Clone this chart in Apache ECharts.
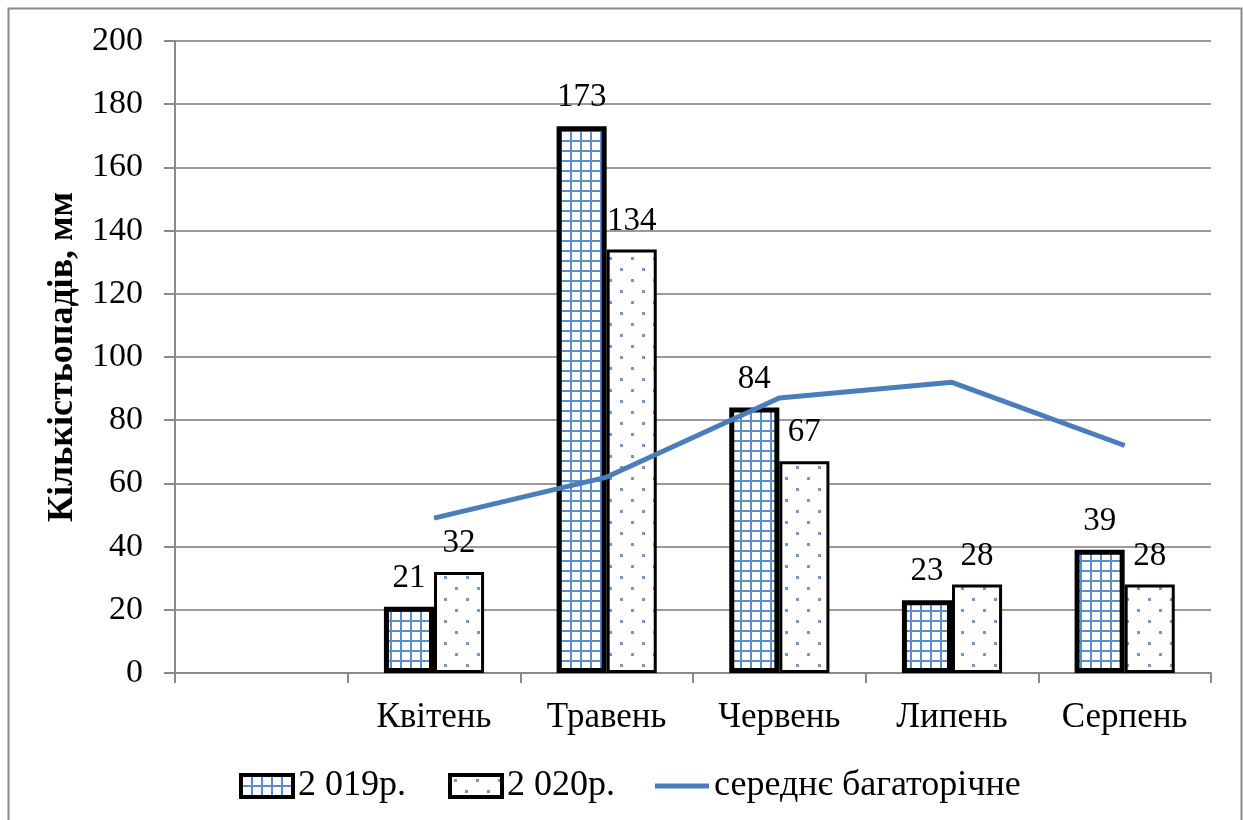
<!DOCTYPE html>
<html>
<head>
<meta charset="utf-8">
<script src="https://cdn.jsdelivr.net/npm/echarts@6/dist/echarts.min.js"></script>
<style>
  html, body { margin: 0; padding: 0; background: #fff; }
  #chart { width: 1243px; height: 820px; }
</style>
</head>
<body>
<div id="chart"></div>
<script>
// Monthly precipitation, mm
const months = ['', 'Квітень', 'Травень', 'Червень', 'Липень', 'Серпень'];
const rain2019 = [null, 21, 173, 84, 23, 39];
const rain2020 = [null, 32, 134, 67, 28, 28];
const longTermMean = [null, 49, 62, 87, 92, 72];
const yTicks = [0, 20, 40, 60, 80, 100, 120, 140, 160, 180, 200];
const seriesNames = ['2 019р.', '2 020р.', 'середнє багаторічне'];

const FONT = "'Liberation Serif', 'DejaVu Serif', serif";
const BLUE = '#4a7ebb';

// Fill textures: blue grid for 2019, sparse staggered dots for 2020
function gridTile() {
  const c = document.createElement('canvas');
  c.width = 10; c.height = 10;
  const g = c.getContext('2d');
  g.fillStyle = '#ffffff'; g.fillRect(0, 0, 10, 10);
  g.fillStyle = '#5d8ccc';
  g.fillRect(0, 0, 10, 2);
  g.fillRect(0, 0, 2, 10);
  return c;
}
function dotTile() {
  const c = document.createElement('canvas');
  c.width = 22; c.height = 22;
  const g = c.getContext('2d');
  g.fillStyle = '#ffffff'; g.fillRect(0, 0, 22, 22);
  g.fillStyle = '#6f98d2';
  g.fillRect(4, 4, 3, 3);
  g.fillRect(15, 15, 3, 3);
  return c;
}
const gridFill = { image: gridTile(), repeat: 'repeat' };
const dotFill = { image: dotTile(), repeat: 'repeat' };

const chart = echarts.init(document.getElementById('chart'), null, { renderer: 'canvas' });

const barLabel = {
  show: true,
  position: 'top',
  distance: 12,
  color: '#000',
  fontFamily: FONT,
  fontSize: 33
};

const legendText = { fontFamily: FONT, fontSize: 36, color: '#000' };
function legendAt(left, item, w, h) {
  return {
    left: left,
    top: 763,
    itemWidth: w,
    itemHeight: h,
    selectedMode: false,
    textStyle: legendText,
    data: [item]
  };
}

chart.setOption({
  backgroundColor: '#fff',
  animation: false,
  textStyle: { fontFamily: FONT },
  graphic: [{
    type: 'rect',
    left: 6, top: 6,
    shape: { width: 1233, height: 840 },
    style: { fill: 'none', stroke: '#8a8a8a', lineWidth: 2 },
    silent: true
  }],
  grid: { left: 175, right: 32, top: 41, bottom: 147, containLabel: false },
  legend: [
    legendAt(234, { name: seriesNames[0], icon: 'rect', itemStyle: { borderColor: '#000', borderWidth: 4 } }, 52, 22),
    legendAt(443, { name: seriesNames[1], icon: 'rect', itemStyle: { borderColor: '#000', borderWidth: 4 } }, 52, 22),
    legendAt(650, { name: seriesNames[2], icon: 'rect' }, 54, 5)
  ],
  xAxis: {
    type: 'category',
    data: months,
    boundaryGap: true,
    axisLine: { lineStyle: { color: '#8a8a8a', width: 2 } },
    axisTick: { show: true, length: 10, alignWithLabel: false, lineStyle: { color: '#8a8a8a', width: 2 } },
    axisLabel: { color: '#000', fontFamily: FONT, fontSize: 35, margin: 27 },
    splitLine: { show: false }
  },
  yAxis: {
    type: 'value',
    min: yTicks[0],
    max: yTicks[yTicks.length - 1],
    interval: 20,
    name: 'Кількістьопадів, мм',
    nameLocation: 'middle',
    nameGap: 94,
    nameRotate: 90,
    nameTextStyle: { fontFamily: FONT, fontSize: 36, fontWeight: 'bold', color: '#000' },
    axisLine: { show: true, lineStyle: { color: '#8a8a8a', width: 2 } },
    axisTick: { show: true, length: 11, lineStyle: { color: '#8a8a8a', width: 2 } },
    axisLabel: { color: '#000', fontFamily: FONT, fontSize: 34, margin: 32 },
    splitLine: { show: true, lineStyle: { color: '#9a9a9a', width: 2 } }
  },
  series: [
    {
      name: seriesNames[0],
      type: 'bar',
      data: rain2019,
      barGap: '0%',
      barCategoryGap: '42%',
      itemStyle: { color: gridFill, borderColor: '#000', borderWidth: 5 },
      label: barLabel,
      z: 2
    },
    {
      name: seriesNames[1],
      type: 'bar',
      data: rain2020,
      itemStyle: { color: dotFill, borderColor: '#000', borderWidth: 3 },
      label: barLabel,
      z: 2
    },
    {
      name: seriesNames[2],
      type: 'line',
      data: longTermMean,
      symbol: 'none',
      showSymbol: false,
      lineStyle: { color: BLUE, width: 5 },
      itemStyle: { color: BLUE },
      z: 3
    }
  ]
});
</script>
</body>
</html>
